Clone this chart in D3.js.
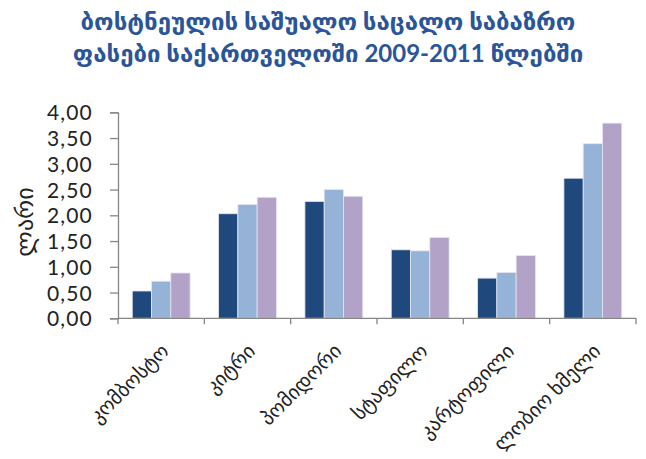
<!DOCTYPE html>
<html><head><meta charset="utf-8">
<script src="https://cdn.jsdelivr.net/npm/d3@7"></script>
<style>body{margin:0;background:#fff}svg{display:block}</style>
</head><body>
<svg id="c" width="646" height="459"></svg>
<script>
const titleLines = ["ბოსტნეულის საშუალო საცალო საბაზრო", "ფასები საქართველოში 2009-2011 წლებში"];
const categories = ["კომბოსტო", "კიტრი", "პომიდორი", "სტაფილო", "კარტოფილი", "ლობიო ხმელი"];
const seriesNames = ["2009", "2010", "2011"];
const values2009 = [0.53, 2.03, 2.27, 1.33, 0.78, 2.72];
const values2010 = [0.72, 2.21, 2.50, 1.31, 0.89, 3.39];
const values2011 = [0.88, 2.35, 2.37, 1.57, 1.22, 3.79];
const yTicks = [0, 0.5, 1, 1.5, 2, 2.5, 3, 3.5, 4];
const yLabel = "ლარი";
const colors = ["#1F497D", "#95B3D7", "#B3A2C7"];

const series = [values2009, values2010, values2011];
const svg = d3.select("#c");
const mLeft = 118, mRight = 636, mTop = 112.3, mBottom = 318.3;
const font = "Lato, 'DejaVu Sans', sans-serif";

const x = d3.scaleBand().domain(categories).range([mLeft, mRight]).paddingInner(0.33).paddingOuter(0.165);
const xs = d3.scaleBand().domain(seriesNames).range([0, x.bandwidth()]);
const y = d3.scaleLinear().domain([0, 4]).range([mBottom, mTop]);

// title
svg.append("g").selectAll("text").data(titleLines).join("text")
  .attr("x", 328).attr("y", (d, i) => 30 + i * 32)
  .attr("text-anchor", "middle")
  .attr("font-family", font).attr("font-weight", "bold").attr("font-size", 24)
  .attr("fill", "#2A5699").text(d => d);

// bars
const g = svg.append("g");
series.forEach((vals, si) => {
  g.append("g").selectAll("rect").data(vals).join("rect")
    .attr("x", (d, i) => x(categories[i]) + xs(seriesNames[si]))
    .attr("y", d => y(d))
    .attr("width", xs.bandwidth())
    .attr("height", d => y(0) - y(d))
    .attr("fill", colors[si])
    .attr("stroke", "#E6E6F0").attr("stroke-width", 0.8);
});

// y axis
const yAxis = d3.axisLeft(y).tickValues(yTicks).tickSize(8)
  .tickFormat(d => d3.format(".2f")(d).replace(".", ","));
const ya = svg.append("g").attr("transform", `translate(${mLeft},0)`).call(yAxis);
ya.select(".domain").attr("stroke", "#868686").attr("stroke-width", 1.3);
ya.selectAll(".tick line").attr("stroke", "#868686").attr("stroke-width", 1.3);
ya.selectAll(".tick text").attr("font-family", font).attr("font-size", 21)
  .attr("letter-spacing", "1.2px")
  .attr("fill", "#222").attr("x", -25).attr("dy", "0.36em");

// x axis
const xa = svg.append("g").attr("transform", `translate(0,${mBottom})`);
xa.append("line").attr("x1", mLeft).attr("x2", mRight).attr("y1", 0).attr("y2", 0)
  .attr("stroke", "#868686").attr("stroke-width", 1.3);
const bounds = categories.map(c => x(c) - x.step() * x.paddingInner() / 2).concat([mRight]);
xa.selectAll(".tk").data(bounds).join("line").attr("class", "tk")
  .attr("x1", d => d).attr("x2", d => d).attr("y1", 0).attr("y2", 6)
  .attr("stroke", "#868686").attr("stroke-width", 1.3);
xa.selectAll(".lbl").data(categories).join("text").attr("class", "lbl")
  .attr("transform", d => `translate(${x(d) + x.bandwidth() / 2 + 9},${34}) rotate(-45)`)
  .attr("text-anchor", "end")
  .attr("font-family", font).attr("font-size", 20).attr("fill", "#222")
  .text(d => d);

// y label
svg.append("text").attr("transform", "translate(33,222) rotate(-90)")
  .attr("text-anchor", "middle").attr("font-family", font).attr("font-size", 24)
  .attr("fill", "#222").text(yLabel);
</script>
</body></html>
